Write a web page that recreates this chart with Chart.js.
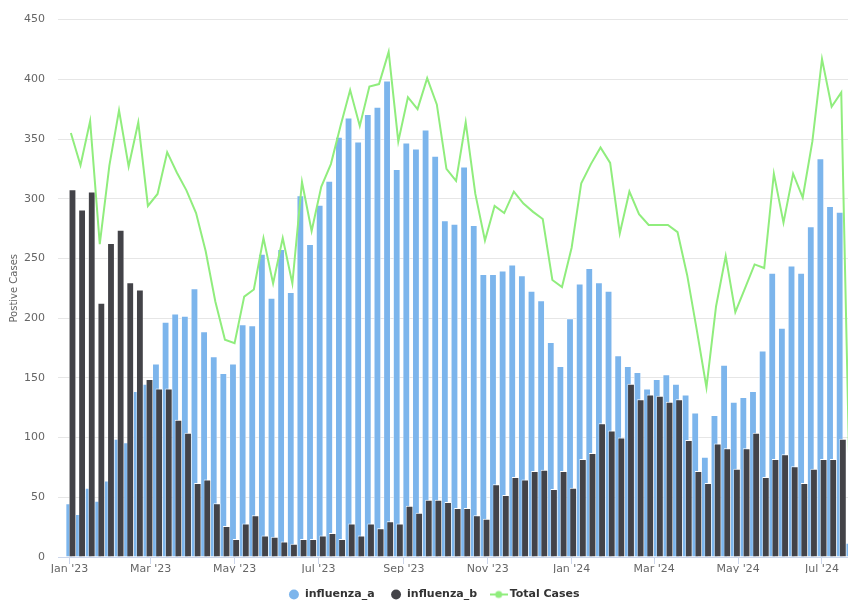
<!DOCTYPE html>
<html>
<head>
<meta charset="utf-8">
<title>Influenza Positive Cases</title>
<script src="https://cdn.jsdelivr.net/npm/chart.js@4.4.1/dist/chart.umd.min.js"></script>
<style>
    html, body { margin: 0; padding: 0; background: #ffffff; }
    canvas { display: block; }
</style>
</head>
<body>
<canvas id="casesChart" width="848" height="601"></canvas>
<script>
const DAY = 86400000;
const WEEK = 7 * DAY;

// weekly data, first week starts Mon 2 Jan 2023
const firstWeek = '2023-01-02';

const influenzaA = [
    45, 36, 58, 47, 64, 99, 96, 139, 145, 162,
    197, 204, 202, 225, 189, 168, 154, 162, 195, 194,
    254, 217, 258, 222, 303, 262, 295, 315, 352, 368,
    348, 371, 377, 399, 325, 347, 342, 358, 336, 282,
    279, 327, 278, 237, 237, 240, 245, 236, 223, 215,
    180, 160, 200, 229, 242, 230, 223, 169, 160, 155,
    141, 149, 153, 145, 136, 121, 84, 119, 161, 130,
    134, 139, 173, 238, 192, 244, 238, 277, 334, 294,
    289, 12
];

const influenzaB = [
    308, 291, 306, 213, 263, 274, 230, 224, 149, 141,
    141, 115, 104, 62, 65, 45, 26, 15, 28, 35,
    18, 17, 13, 11, 15, 15, 18, 20, 15, 28,
    18, 28, 24, 30, 28, 43, 37, 48, 48, 46,
    41, 41, 35, 32, 61, 52, 67, 65, 72, 73,
    57, 72, 58, 82, 87, 112, 106, 100, 145, 132,
    136, 135, 130, 132, 98, 72, 62, 95, 91, 74,
    91, 104, 67, 82, 86, 76, 62, 74, 82, 82,
    99, 0
];

const totalCases = [
    355, 328, 365, 262, 328, 374, 327, 364, 294, 304,
    339, 322, 307, 288, 256, 214, 182, 179, 218, 224,
    267, 229, 267, 229, 314, 273, 310, 329, 361, 391,
    361, 394, 396, 423, 348, 385, 375, 401, 379, 325,
    315, 364, 304, 265, 294, 288, 306, 296, 289, 283,
    232, 226, 259, 313, 329, 343, 330, 271, 306, 287,
    278, 278, 278, 272, 236, 190, 142, 210, 252, 205,
    225, 245, 242, 321, 280, 321, 301, 348, 417, 377,
    389, 12
];

const weekStarts = influenzaA.map((_, i) => Date.parse(firstWeek) + i * WEEK);

const tickDates = [
    '2023-01-01', '2023-03-01', '2023-05-01', '2023-07-01', '2023-09-01',
    '2023-11-01', '2024-01-01', '2024-03-01', '2024-05-01', '2024-07-01'
];
const tickLabels = [
    "Jan '23", "Mar '23", "May '23", "Jul '23", "Sep '23",
    "Nov '23", "Jan '24", "Mar '24", "May '24", "Jul '24"
];
const tickValues = tickDates.map(d => Date.parse(d));

const yMax = 450;
const yStep = 50;

const COLORS = { a: '#7cb5ec', b: '#434348', total: '#90ed7d' };
const FONT = 'DejaVu Sans';

// legend marker for the line series: short line with a dot
function lineMarker(color) {
    const c = document.createElement('canvas');
    c.width = 18;
    c.height = 10;
    const g = c.getContext('2d');
    g.strokeStyle = color;
    g.lineWidth = 2;
    g.beginPath();
    g.moveTo(0, 5);
    g.lineTo(18, 5);
    g.stroke();
    g.fillStyle = color;
    g.beginPath();
    g.arc(9, 5, 3.5, 0, Math.PI * 2);
    g.fill();
    return c;
}

// bars keep their grouped slots, but influenza_b is painted over influenza_a and the line over both
const drawOrder = {
    id: 'drawOrder',
    beforeDatasetsDraw(chart) {
        const area = chart.chartArea;
        const ctx = chart.ctx;
        ctx.save();
        ctx.beginPath();
        ctx.rect(area.left, area.top - 4, area.width, area.height + 4);
        ctx.clip();
        [0, 1, 2].forEach(i => {
            if (chart.isDatasetVisible(i)) chart.getDatasetMeta(i).controller.draw();
        });
        ctx.restore();
        return false;
    }
};

const barBorder = { top: 1, left: 0.6, right: 0.6, bottom: 0 };
const totalMarker = lineMarker(COLORS.total);

new Chart(document.getElementById('casesChart'), {
    type: 'bar',
    data: {
        labels: weekStarts,
        datasets: [
            {
                label: 'influenza_a',
                data: influenzaA,
                backgroundColor: COLORS.a,
                borderColor: '#ffffff',
                borderWidth: barBorder,
                categoryPercentage: 0.665,
                barPercentage: 2.2
            },
            {
                label: 'influenza_b',
                data: influenzaB,
                backgroundColor: COLORS.b,
                borderColor: '#ffffff',
                borderWidth: barBorder,
                categoryPercentage: 0.665,
                barPercentage: 2.2
            },
            {
                type: 'line',
                label: 'Total Cases',
                data: totalCases,
                borderColor: COLORS.total,
                backgroundColor: COLORS.total,
                borderWidth: 2,
                pointRadius: 0,
                tension: 0
            }
        ]
    },
    options: {
        responsive: false,
        animation: false,
        events: [],
        layout: { padding: { top: 19, right: -20, bottom: -9, left: 0 } },
        plugins: {
            tooltip: { enabled: false },
            legend: {
                position: 'bottom',
                labels: {
                    usePointStyle: true,
                    boxHeight: 7,
                    padding: 16,
                    color: '#333333',
                    font: { family: FONT, size: 11, weight: 'bold' },
                    generateLabels: (chart) => chart.data.datasets.map((ds, i) => ({
                        text: ds.label,
                        fillStyle: ds.type === 'line' ? ds.borderColor : ds.backgroundColor,
                        strokeStyle: ds.type === 'line' ? ds.borderColor : ds.backgroundColor,
                        lineWidth: 0,
                        pointStyle: ds.type === 'line' ? totalMarker : 'circle',
                        hidden: !chart.isDatasetVisible(i),
                        datasetIndex: i,
                        fontColor: '#333333'
                    }))
                }
            }
        },
        scales: {
            x: {
                type: 'linear',
                offset: false,
                min: Date.parse('2023-01-01') - 8.36 * DAY,
                max: Date.parse('2023-01-01') + 565.9 * DAY,
                afterBuildTicks: (axis) => { axis.ticks = tickValues.map(v => ({ value: v })); },
                afterFit: (axis) => { axis.height = 16; },
                grid: {
                    offset: false,
                    drawOnChartArea: false,
                    drawTicks: true,
                    tickLength: 7,
                    color: '#ccd6eb'
                },
                border: { display: true, color: '#ccd6eb', width: 1 },
                ticks: {
                    autoSkip: false,
                    maxRotation: 0,
                    padding: 0,
                    color: '#666666',
                    font: { family: FONT, size: 11, lineHeight: 1 },
                    callback: (value) => {
                        const k = tickValues.indexOf(value);
                        return k >= 0 ? tickLabels[k] : '';
                    }
                }
            },
            y: {
                min: 0,
                max: yMax,
                afterFit: (axis) => { axis.width = 58; },
                grid: { color: '#e6e6e6', drawTicks: false },
                border: { display: false },
                ticks: {
                    stepSize: yStep,
                    padding: 13,
                    color: '#666666',
                    font: { family: FONT, size: 11 }
                },
                title: {
                    display: true,
                    text: 'Postive Cases',
                    color: '#666666',
                    padding: { top: 8, bottom: 0 },
                    font: { family: FONT, size: 10 }
                }
            }
        }
    },
    plugins: [drawOrder]
});
</script>
</body>
</html>
